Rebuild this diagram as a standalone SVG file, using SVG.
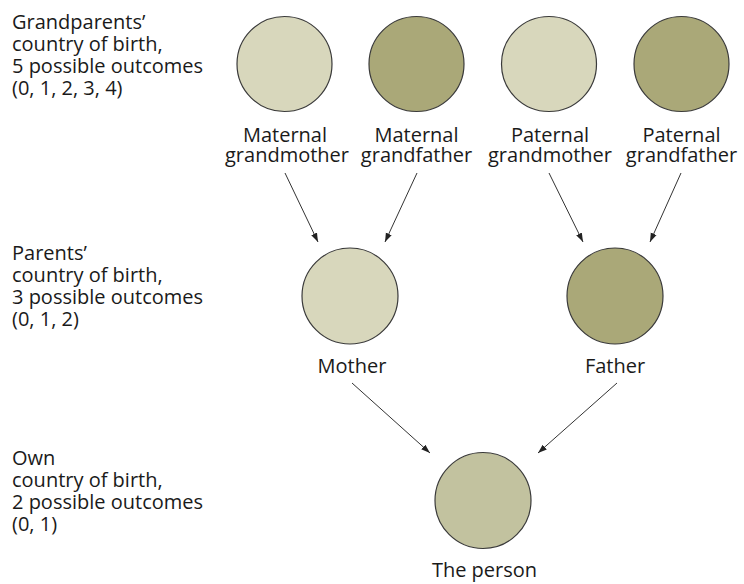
<svg xmlns="http://www.w3.org/2000/svg" width="744" height="584" viewBox="0 0 744 584">
<defs>
<style>
text{font-family:"Open Sans","Liberation Sans",sans-serif;font-size:20px;fill:#1a1a1a}
.c{text-anchor:middle}
circle{stroke:#3a3a3a;stroke-width:1.2}
.l{fill:#d8d7bc}
.d{fill:#aaa878}
.p{fill:#c2c29f}
.e line{stroke:#333;stroke-width:1}
</style>
<marker id="ah" viewBox="0 0 10 10" refX="10" refY="5" markerWidth="9" markerHeight="9" markerUnits="userSpaceOnUse" orient="auto">
<path d="M0,1.5 L10,5 L0,8.5 z" fill="#222"/>
</marker>
</defs>
<rect width="744" height="584" fill="#fff"/>
<g id="legend-grandparents">
<text x="12" y="29">Grandparents’</text>
<text x="12" y="51">country of birth,</text>
<text x="12" y="73">5 possible outcomes</text>
<text x="12" y="95">(0, 1, 2, 3, 4)</text>
</g>
<g id="legend-parents">
<text x="12" y="260">Parents’</text>
<text x="12" y="282">country of birth,</text>
<text x="12" y="304">3 possible outcomes</text>
<text x="12" y="326">(0, 1, 2)</text>
</g>
<g id="legend-own">
<text x="12" y="465">Own</text>
<text x="12" y="487">country of birth,</text>
<text x="12" y="509">2 possible outcomes</text>
<text x="12" y="531">(0, 1)</text>
</g>
<g id="maternal-grandmother">
<circle class="l" cx="284.5" cy="64" r="47.5"/>
<text class="c" x="285" y="142">Maternal</text>
<text class="c" x="287" y="162">grandmother</text>
</g>
<g id="maternal-grandfather">
<circle class="d" cx="416.5" cy="64" r="47.5"/>
<text class="c" x="416.5" y="142">Maternal</text>
<text class="c" x="416.5" y="162">grandfather</text>
</g>
<g id="paternal-grandmother">
<circle class="l" cx="549" cy="64" r="47.5"/>
<text class="c" x="550" y="142">Paternal</text>
<text class="c" x="550" y="162">grandmother</text>
</g>
<g id="paternal-grandfather">
<circle class="d" cx="681.5" cy="64" r="47.5"/>
<text class="c" x="681.5" y="142">Paternal</text>
<text class="c" x="681.5" y="162">grandfather</text>
</g>
<g id="mother">
<circle class="l" cx="350" cy="296" r="48"/>
<text class="c" x="352" y="373">Mother</text>
</g>
<g id="father">
<circle class="d" cx="615" cy="296" r="48"/>
<text class="c" x="615" y="373">Father</text>
</g>
<g id="person">
<circle class="p" cx="483" cy="500.5" r="48"/>
<text class="c" x="484.5" y="577">The person</text>
</g>
<g id="connectors" class="e">
<line x1="285" y1="173" x2="318" y2="242" marker-end="url(#ah)"/>
<line x1="417" y1="173" x2="385" y2="242" marker-end="url(#ah)"/>
<line x1="549" y1="173" x2="583" y2="242" marker-end="url(#ah)"/>
<line x1="681" y1="173" x2="650" y2="242" marker-end="url(#ah)"/>
<line x1="352" y1="383" x2="430" y2="453" marker-end="url(#ah)"/>
<line x1="617" y1="383" x2="538" y2="453" marker-end="url(#ah)"/>
</g>
</svg>
